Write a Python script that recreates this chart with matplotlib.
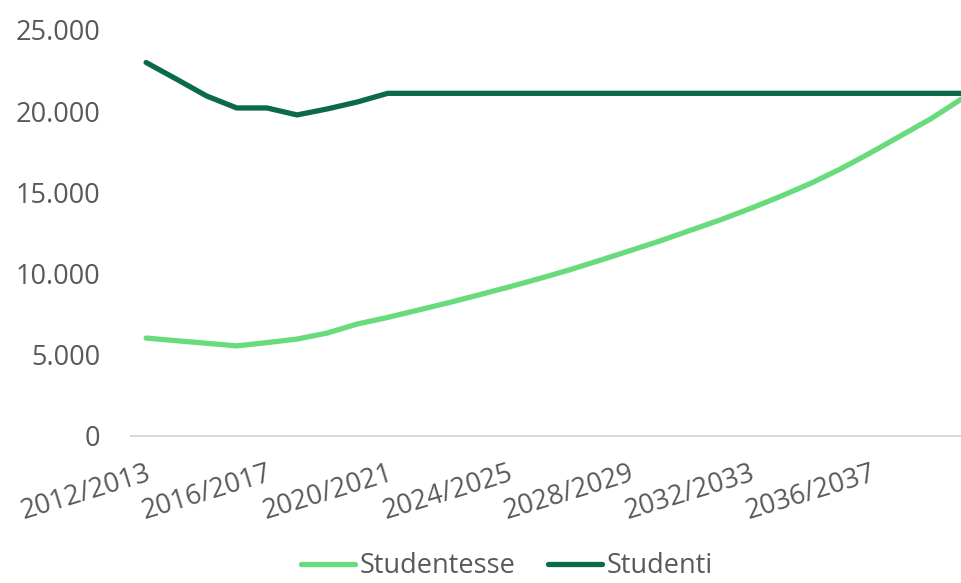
import matplotlib
matplotlib.use("Agg")
import matplotlib.pyplot as plt
from matplotlib.ticker import FuncFormatter

years = [f"{y}/{y+1}" for y in range(2012, 2040)]
studentesse = [6030, 5870, 5710, 5550, 5750, 5970, 6340, 6900, 7300, 7750,
               8200, 8680, 9170, 9680, 10220, 10800, 11400, 12000, 12650, 13300,
               14000, 14750, 15550, 16450, 17450, 18500, 19550, 20750]
studenti = [23000, 21980, 20940, 20200, 20200, 19770, 20140, 20570, 21100, 21100,
            21100, 21100, 21100, 21100, 21100, 21100, 21100, 21100, 21100, 21100,
            21100, 21100, 21100, 21100, 21100, 21100, 21100, 21100]
yticks = [0, 5000, 10000, 15000, 20000, 25000]

c_light = "#68DB7C"
c_dark = "#0B6A4E"
c_text = "#595959"

plt.rcParams['font.family'] = ['Open Sans', 'DejaVu Sans']
FS = 19.5

W, H = 962, 583
fig = plt.figure(figsize=(W/100, H/100), dpi=100)
left, right, top, bottom = 131, 976.6, 30, 436
ax = fig.add_axes([left/W, (H-bottom)/H, (right-left)/W, (bottom-top)/H])

x = list(range(len(years)))
ax.plot(x, studentesse, color=c_light, lw=3.8, solid_capstyle='round', label="Studentesse", zorder=3)
ax.plot(x, studenti, color=c_dark, lw=3.8, solid_capstyle='round', label="Studenti", zorder=3)

ax.set_xlim(-0.5, len(years)-0.5)
ax.set_ylim(0, 25000)
ax.set_yticks(yticks)
ax.yaxis.set_major_formatter(FuncFormatter(lambda v, p: f"{int(v):,}".replace(",", ".")))
ax.set_xticks(x[::4])
ax.set_xticklabels(years[::4], rotation=17, ha='right', rotation_mode='anchor', va='top')

for s in ['top', 'right', 'left']:
    ax.spines[s].set_visible(False)
ax.spines['bottom'].set_color('#D9D9D9')
ax.spines['bottom'].set_linewidth(1.5)
ax.spines['bottom'].set_zorder(1)
ax.tick_params(axis='both', length=0, labelsize=FS, colors=c_text)
ax.tick_params(axis='y', pad=22)
ax.tick_params(axis='x', pad=17)

ax.legend(loc='center', bbox_to_anchor=(507/W, (H-566)/H), bbox_transform=fig.transFigure,
          ncol=2, frameon=False, fontsize=FS, handlelength=2.0, handletextpad=0.18,
          columnspacing=1.2, labelcolor=c_text, borderpad=0.2)

fig.savefig("out.png", dpi=100)
